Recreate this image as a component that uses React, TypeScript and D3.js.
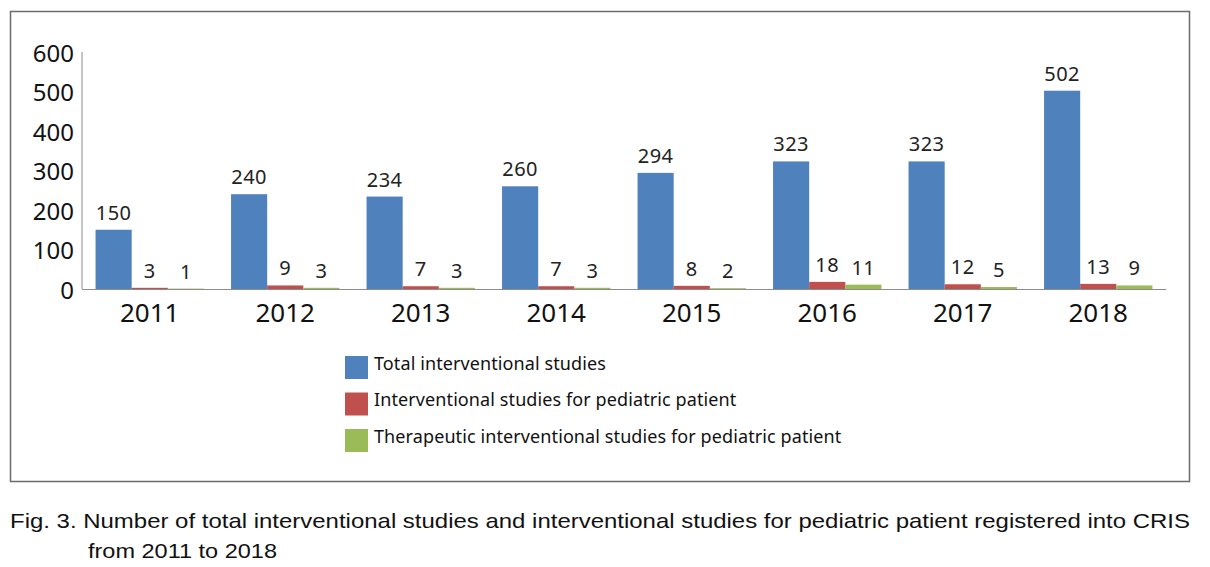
import React from 'react';
import * as d3 from 'd3';

// data
const years = ['2011', '2012', '2013', '2014', '2015', '2016', '2017', '2018'];
const totalStudies = [150, 240, 234, 260, 294, 323, 323, 502];
const pediatricStudies = [3, 9, 7, 7, 8, 18, 12, 13];
const therapeuticStudies = [1, 3, 3, 3, 2, 11, 5, 9];
const yTicks = [0, 100, 200, 300, 400, 500, 600];
const seriesNames = [
  'Total interventional studies',
  'Interventional studies for pediatric patient',
  'Therapeutic interventional studies for pediatric patient',
];
const seriesColors = ['#4F81BD', '#C0504D', '#9BBB59'];
const captionLines = [
  'Fig. 3. Number of total interventional studies and interventional studies for pediatric patient registered into CRIS',
  'from 2011 to 2018',
];

const W = 1210;
const H = 567;
const chartFont = '"Noto Sans", "DejaVu Sans", sans-serif';
const captionFont = '"Liberation Sans Narrow", "Liberation Sans", Arial, sans-serif';

export default function App() {
  const series = [totalStudies, pediatricStudies, therapeuticStudies];

  // plot area
  const left = 82, right = 1166, top = 52, bottom = 289;

  const x = d3.scaleBand().domain(years).range([left, right]).paddingInner(0.2).paddingOuter(0.1);
  const xSub = d3.scaleBand().domain(d3.range(series.length).map(String)).range([0, x.bandwidth()]);
  const y = d3.scaleLinear().domain([0, 600]).range([bottom, top]);

  return (
    <svg width={W} height={H} style={{ position: 'absolute', left: 0, top: 0, display: 'block', background: '#fff' }}>
      {/* outer frame */}
      <rect x={10.5} y={11.5} width={1179} height={470} fill="none" stroke="#6b6b6b" strokeWidth={1.5} />

      {/* y axis */}
      <line x1={left} x2={left} y1={top} y2={bottom} stroke="#8c8c8c" strokeWidth={1} />
      {yTicks.map(t => (
        <text key={t} x={74} y={y(t)} textAnchor="end" dominantBaseline="central"
          fontFamily={chartFont} fontSize={24} fill="#111">{t}</text>
      ))}

      {/* bars */}
      {years.map((yr, i) => (
        <g key={yr} transform={`translate(${x(yr)},0)`}>
          {series.map((s, j) => {
            const bx = xSub(String(j)) as number;
            const bw = xSub.bandwidth();
            return (
              <g key={j}>
                <rect x={bx} y={y(s[i])} width={bw} height={bottom - y(s[i])} fill={seriesColors[j]} />
                <text x={bx + bw / 2} y={y(s[i]) - 10} textAnchor="middle"
                  fontFamily={chartFont} fontSize={20} fill="#222" letterSpacing={0.5}>{s[i]}</text>
              </g>
            );
          })}
          <text x={x.bandwidth() / 2} y={322} textAnchor="middle"
            fontFamily={chartFont} fontSize={26} fill="#111">{yr}</text>
        </g>
      ))}

      {/* x axis */}
      <line x1={left} x2={right} y1={bottom + 0.5} y2={bottom + 0.5} stroke="#8c8c8c" strokeWidth={1} />

      {/* legend */}
      {seriesNames.map((name, j) => (
        <g key={name} transform={`translate(345,${356 + j * 36.5})`}>
          <rect x={0} y={0} width={23} height={23} fill={seriesColors[j]} />
          <text x={29} y={13.5} fontFamily={chartFont}
            fontSize={18} fill="#111" letterSpacing={0.1}>{name}</text>
        </g>
      ))}

      {/* caption */}
      <text x={10} y={528} fontFamily={captionFont}
        fontSize={21} fill="#111" textLength={1180} lengthAdjust="spacingAndGlyphs">{captionLines[0]}</text>
      <text x={88} y={558} fontFamily={captionFont}
        fontSize={21} fill="#111" textLength={189} lengthAdjust="spacingAndGlyphs">{captionLines[1]}</text>
    </svg>
  );
}
